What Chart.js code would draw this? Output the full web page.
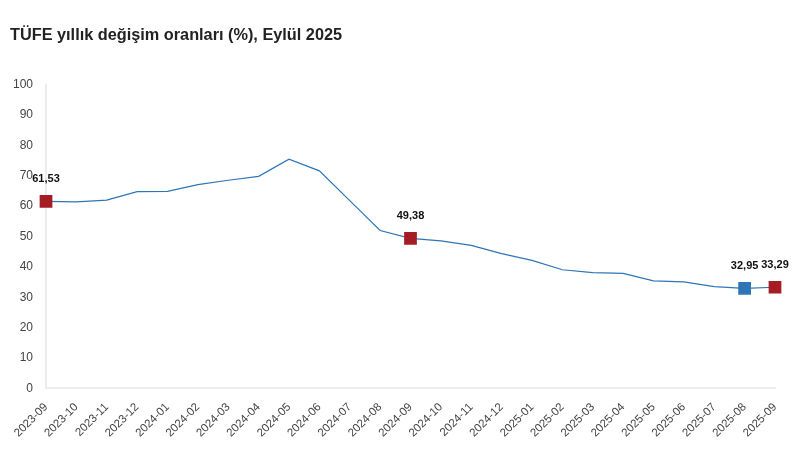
<!DOCTYPE html>
<html>
<head>
<meta charset="utf-8">
<script src="https://cdn.jsdelivr.net/npm/chart.js@4/dist/chart.umd.min.js"></script>
<style>
  html, body { margin: 0; padding: 0; background: #fff; }
  #wrap { width: 812px; height: 460px; position: relative; }
</style>
</head>
<body>
<div id="wrap"><canvas id="tufeChart" width="812" height="460"></canvas></div>
<script>
// Months shown on the x axis
const months = [
  '2023-09', '2023-10', '2023-11', '2023-12', '2024-01', '2024-02', '2024-03',
  '2024-04', '2024-05', '2024-06', '2024-07', '2024-08', '2024-09', '2024-10',
  '2024-11', '2024-12', '2025-01', '2025-02', '2025-03', '2025-04', '2025-05',
  '2025-06', '2025-07', '2025-08', '2025-09'
];
// Annual CPI change, %
const tufeValues = [
  61.53, 61.36, 61.98, 64.77, 64.86, 67.07, 68.50, 69.80, 75.45, 71.60, 61.78,
  51.97, 49.38, 48.58, 47.09, 44.38, 42.12, 39.05, 38.10, 37.86, 35.41, 35.05,
  33.52, 32.95, 33.29
];
// Points that get a square marker and a value label
const highlightRed = [0, 12, 24];
const highlightBlue = [23];
const yTicks = [0, 10, 20, 30, 40, 50, 60, 70, 80, 90, 100];

const lineBlue = '#2e75b6';
const markRed = '#a51c24';

let pointColors = tufeValues.map((v, i) => highlightBlue.includes(i) ? lineBlue : markRed);
let pointSizes = tufeValues.map((v, i) => (highlightRed.includes(i) || highlightBlue.includes(i)) ? 9 : 0);

// Small plugin to write the value above highlighted points
const valueLabels = {
  id: 'valueLabels',
  afterDatasetsDraw(chart) {
    let ctx = chart.ctx;
    let meta = chart.getDatasetMeta(0);
    ctx.save();
    ctx.font = 'bold 11px "Liberation Sans", Arial, sans-serif';
    ctx.fillStyle = '#111';
    ctx.textAlign = 'center';
    ctx.textBaseline = 'bottom';
    highlightRed.concat(highlightBlue).forEach(i => {
      let pt = meta.data[i];
      let txt = tufeValues[i].toFixed(2).replace('.', ',');
      ctx.fillText(txt, pt.x, pt.y - 17);
    });
    ctx.restore();
  }
};

new Chart(document.getElementById('tufeChart'), {
  type: 'line',
  data: {
    labels: months,
    datasets: [{
      data: tufeValues,
      borderColor: lineBlue,
      borderWidth: 1.2,
      tension: 0,
      pointStyle: 'rect',
      pointRadius: pointSizes,
      pointHoverRadius: pointSizes,
      pointBackgroundColor: pointColors,
      pointBorderColor: pointColors,
      pointBorderWidth: 0
    }]
  },
  options: {
    responsive: false,
    animation: false,
    layout: { padding: { left: 10, right: 37, top: 0, bottom: 8 } },
    plugins: {
      legend: { display: false },
      tooltip: { enabled: false },
      title: {
        display: true,
        text: 'TÜFE yıllık değişim oranları (%), Eylül 2025',
        align: 'start',
        color: '#222',
        font: { family: '"Liberation Sans", Arial, sans-serif', size: 16.3, weight: 'bold' },
        padding: { top: 26, bottom: 39 }
      }
    },
    scales: {
      x: {
        grid: { display: false, drawTicks: false },
        border: { color: '#ececec', width: 2 },
        ticks: {
          color: '#444',
          font: { family: '"Liberation Sans", Arial, sans-serif', size: 11.5 },
          maxRotation: 45,
          minRotation: 45,
          padding: 12,
          autoSkip: false
        }
      },
      y: {
        min: 0,
        max: 100,
        afterBuildTicks(axis) { axis.ticks = yTicks.map(v => ({ value: v })); },
        afterFit(axis) { axis.width = 36; },
        grid: { display: false, drawTicks: false },
        border: { color: '#ececec', width: 2 },
        ticks: {
          color: '#444',
          font: { family: '"Liberation Sans", Arial, sans-serif', size: 12 },
          padding: 13
        }
      }
    }
  },
  plugins: [valueLabels]
});
</script>
</body>
</html>
